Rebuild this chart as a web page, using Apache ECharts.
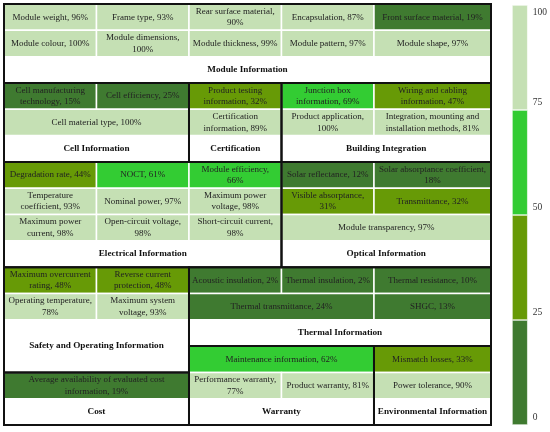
<!DOCTYPE html>
<html>
<head>
<meta charset="utf-8">
<script src="https://cdn.jsdelivr.net/npm/echarts@6/dist/echarts.min.js"></script>
<style>html,body{margin:0;padding:0;background:#fff}#c{width:550px;height:432px}</style>
</head>
<body>
<div id="c"></div>
<script>
// ---- data ----
const cellNames = [
  'Module weight','Frame type','Rear surface material','Encapsulation','Front surface material',
  'Module colour','Module dimensions','Module thickness','Module pattern','Module shape',
  'Cell manufacturing\ntechnology','Cell efficiency','Cell material type',
  'Product testing\ninformation','Certification\ninformation',
  'Junction box\ninformation','Wiring and cabling\ninformation','Product application','Integration, mounting and\ninstallation methods',
  'Degradation rate','NOCT','Module efficiency','Temperature\ncoefficient','Nominal power','Maximum power\nvoltage',
  'Maximum power\ncurrent','Open-circuit voltage','Short-circuit current',
  'Solar reflectance','Solar absorptance coefficient','Visible absorptance','Transmittance','Module transparency',
  'Maximum overcurrent\nrating','Reverse current\nprotection','Operating temperature','Maximum system\nvoltage',
  'Acoustic insulation','Thermal insulation','Thermal resistance','Thermal transmittance','SHGC',
  'Average availability of evaluated cost\ninformation',
  'Maintenance information','Performance warranty','Product warranty',
  'Mismatch losses','Power tolerance'
];
const cellValues = [
  96,93,90,87,19,
  100,100,99,97,97,
  15,25,100,
  32,89,
  69,47,100,81,
  44,61,66,93,97,98,98,98,98,
  12,18,31,32,97,
  48,48,78,93,
  2,2,10,24,13,
  19,
  62,77,81,
  33,90
];
// names whose value is printed on a second line
const valueOnNewLine = ['Rear surface material','Module dimensions','Product application','Module efficiency',
  'Open-circuit voltage','Short-circuit current','Solar absorptance coefficient','Visible absorptance',
  'Operating temperature','Performance warranty'];

// layout: column edges (table units) and spans [colStart, colEnd, rowStart, rowEnd] (indices)
const colEdges = [0, 1, 2, 3, 4, 5.265];
const cellSpans = [
  [0,1,0,1],[1,2,0,1],[2,3,0,1],[3,4,0,1],[4,5,0,1],
  [0,1,1,2],[1,2,1,2],[2,3,1,2],[3,4,1,2],[4,5,1,2],
  [0,1,3,4],[1,2,3,4],[0,2,4,5],
  [2,3,3,4],[2,3,4,5],
  [3,4,3,4],[4,5,3,4],[3,4,4,5],[4,5,4,5],
  [0,1,6,7],[1,2,6,7],[2,3,6,7],[0,1,7,8],[1,2,7,8],[2,3,7,8],[0,1,8,9],[1,2,8,9],[2,3,8,9],
  [3,4,6,7],[4,5,6,7],[3,4,7,8],[4,5,7,8],[3,5,8,9],
  [0,1,10,11],[1,2,10,11],[0,1,11,12],[1,2,11,12],
  [2,3,10,11],[3,4,10,11],[4,5,10,11],[2,4,11,12],[4,5,11,12],
  [0,2,14,15],
  [2,4,13,14],[2,3,14,15],[3,4,14,15],
  [4,5,13,14],[4,5,14,15]
];
const groupNames = ['Module Information','Cell Information','Certification','Building Integration',
  'Electrical Information','Optical Information','Safety and Operating Information','Thermal Information',
  'Cost','Warranty','Environmental Information'];
// [colStart, colEnd, rowStart, rowEnd, titleRowStart, titleRowEnd]
const groupSpans = [
  [0,5,0,3,2,3],[0,2,3,6,5,6],[2,3,3,6,5,6],[3,5,3,6,5,6],
  [0,3,6,10,9,10],[3,5,6,10,9,10],[0,2,10,14,12,14],[2,5,10,13,12,13],
  [0,2,14,16,15,16],[2,4,13,16,15,16],[4,5,13,16,15,16]
];
const totalRows = 16;
const scaleTicks = [0, 25, 50, 75, 100];
const scaleColors = ['#3f7a30', '#679a06', '#33cc33', '#c5e0b4'];

// ---- build ----
const cellData = cellNames.map((n, i) => {
  const s = cellSpans[i];
  return [colEdges[s[0]], colEdges[s[1]], s[2], s[3], cellValues[i], i];
});
const cellLabels = cellNames.map((n, i) =>
  n + ',' + (valueOnNewLine.indexOf(n) >= 0 ? '\n' : ' ') + cellValues[i] + '%');
const groupData = groupSpans.map((s, i) => [colEdges[s[0]], colEdges[s[1]], s[2], s[3], s[4], s[5], i]);

function rectOf(api, x0, x1, y0, y1) {
  const p0 = api.coord([x0, y0]), p1 = api.coord([x1, y1]);
  return {x: Math.min(p0[0], p1[0]), y: Math.min(p0[1], p1[1]),
          width: Math.abs(p1[0] - p0[0]), height: Math.abs(p1[1] - p0[1])};
}

const chart = echarts.init(document.getElementById('c'), null, {renderer: 'canvas'});
const bandSeries = scaleColors.map((c, i) => ({
  type: 'bar', xAxisIndex: 1, yAxisIndex: 1, stack: 'cb', barWidth: '100%',
  data: [scaleTicks[i + 1] - scaleTicks[i]],
  itemStyle: {color: c, borderColor: '#fff', borderWidth: 0.6},
  silent: true
}));
const FONT = 'Liberation Serif';

chart.setOption({
  animation: false,
  backgroundColor: '#fff',
  grid: [
    {left: 4, top: 4, width: 487, height: 421},
    {left: 512, top: 5, width: 16, height: 420}
  ],
  xAxis: [
    {type: 'value', min: 0, max: colEdges[colEdges.length - 1], show: false, gridIndex: 0},
    {type: 'category', data: [''], show: false, gridIndex: 1}
  ],
  yAxis: [
    {type: 'value', min: 0, max: totalRows, inverse: true, show: false, gridIndex: 0},
    {type: 'value', gridIndex: 1, position: 'right', min: 0, max: 100, interval: 25,
     axisLine: {show: false}, axisTick: {show: false}, splitLine: {show: false},
     axisLabel: {margin: 5, fontFamily: FONT, fontSize: 9.5, color: '#333',
       formatter: v => v === 100 ? '{t|' + v + '}' : '{u|' + v + '}',
       rich: {
         t: {padding: [14, 0, 0, 0], fontFamily: FONT, fontSize: 9.5, color: '#333'},
         u: {padding: [0, 0, 16, 0], fontFamily: FONT, fontSize: 9.5, color: '#333'}
       }}}
  ],
  visualMap: {
    show: false, type: 'piecewise', seriesIndex: 0, dimension: 4,
    pieces: [
      {min: scaleTicks[0], max: scaleTicks[1], color: scaleColors[0]},
      {gt: scaleTicks[1], lte: scaleTicks[2], color: scaleColors[1]},
      {gt: scaleTicks[2], lte: scaleTicks[3], color: scaleColors[2]},
      {gt: scaleTicks[3], lte: scaleTicks[4], color: scaleColors[3]}
    ]
  },
  series: [
    {
      type: 'custom', xAxisIndex: 0, yAxisIndex: 0, data: cellData, clip: false,
      encode: {x: [0, 1], y: [2, 3]},
      renderItem: function (params, api) {
        const r = rectOf(api, api.value(0), api.value(1), api.value(2), api.value(3));
        const i = api.value(5);
        return {type: 'group', children: [
          {type: 'rect', shape: r, style: {fill: api.visual('color'), stroke: '#fff', lineWidth: 1.5}},
          {type: 'text', style: {text: cellLabels[i], x: r.x + r.width / 2, y: r.y + r.height / 2,
            align: 'center', verticalAlign: 'middle', fontFamily: FONT, fontSize: 9,
            lineHeight: 11.5, fill: '#222'}}
        ]};
      }
    },
    {
      type: 'custom', xAxisIndex: 0, yAxisIndex: 0, data: groupData, clip: false, z: 5,
      encode: {x: [0, 1], y: [2, 3]},
      renderItem: function (params, api) {
        const r = rectOf(api, api.value(0), api.value(1), api.value(2), api.value(3));
        const t = rectOf(api, api.value(0), api.value(1), api.value(4), api.value(5));
        const i = api.value(6);
        return {type: 'group', children: [
          {type: 'rect', shape: r, style: {fill: 'none', stroke: '#111', lineWidth: 2}},
          {type: 'text', style: {text: groupNames[i], x: t.x + t.width / 2, y: t.y + t.height / 2,
            align: 'center', verticalAlign: 'middle', fontFamily: FONT, fontSize: 9.2,
            fontWeight: 'bold', fill: '#111'}}
        ]};
      }
    }
  ].concat(bandSeries)
});
</script>
</body>
</html>
